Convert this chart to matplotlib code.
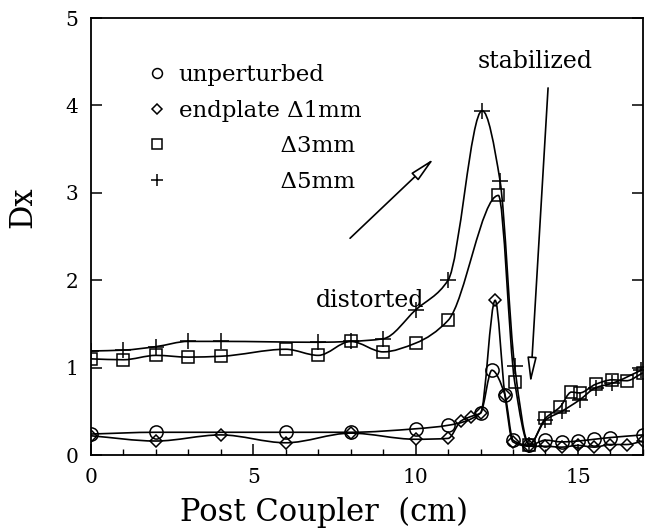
import matplotlib
matplotlib.use("Agg")
import matplotlib.pyplot as plt
import numpy as np
from matplotlib.path import Path
from matplotlib.patches import PathPatch
from matplotlib.lines import Line2D

plt.rcParams['font.family'] = ['DejaVu Serif']

# --- data (Post coupler position in cm vs Dx) ---
unpert_x = [0, 2, 6, 8, 10, 11, 12.0, 12.35, 12.75, 13.0, 13.5, 14.0, 14.5, 15.0, 15.5, 16.0, 17.0]
unpert_y = [0.24, 0.26, 0.26, 0.26, 0.30, 0.34, 0.48, 0.97, 0.69, 0.17, 0.11, 0.17, 0.15, 0.16, 0.18, 0.20, 0.23]

d1_x = [0, 2, 4, 6, 8, 10, 11, 11.4, 11.7, 12.0, 12.45, 12.75, 13.0, 13.5, 14.0, 14.5, 15.0, 15.5, 16.0, 16.5, 17.0]
d1_y = [0.22, 0.16, 0.23, 0.14, 0.25, 0.18, 0.19, 0.39, 0.44, 0.48, 1.77, 0.69, 0.15, 0.10, 0.10, 0.09, 0.11, 0.09, 0.12, 0.12, 0.16]

d3_x = [0, 1, 2, 3, 4, 6, 7, 8, 9, 10, 11, 12.55, 13.05, 13.5, 14.0, 14.45, 14.8, 15.05, 15.55, 16.05, 16.5, 17.0]
d3_y = [1.10, 1.09, 1.14, 1.12, 1.13, 1.21, 1.14, 1.30, 1.18, 1.28, 1.54, 2.97, 0.84, 0.12, 0.42, 0.55, 0.72, 0.71, 0.81, 0.86, 0.85, 0.94]

d5_x = [0, 1, 2, 3, 4, 7, 8, 9, 10, 11, 12.05, 12.6, 13.05, 13.5, 14.0, 14.5, 15.05, 15.55, 16.05, 16.95]
d5_y = [1.19, 1.20, 1.24, 1.30, 1.30, 1.29, 1.30, 1.33, 1.66, 2.00, 3.94, 3.14, 1.02, 0.12, 0.40, 0.50, 0.63, 0.77, 0.82, 0.97]

labels = ['unperturbed', 'endplate \u03941mm', '              \u03943mm', '              \u03945mm']


def smooth_path(xs, ys):
    # bezier segments through the points, monotone (Fritsch-Carlson) tangents
    xs = np.asarray(xs, float)
    ys = np.asarray(ys, float)
    h = np.diff(xs)
    d = np.diff(ys) / h
    n = len(xs)
    m = np.zeros(n)
    m[0], m[-1] = d[0], d[-1]
    for k in range(1, n - 1):
        if d[k - 1] * d[k] > 0:
            w1 = 2 * h[k] + h[k - 1]
            w2 = h[k] + 2 * h[k - 1]
            m[k] = (w1 + w2) / (w1 / d[k - 1] + w2 / d[k])
    verts = [(xs[0], ys[0])]
    codes = [Path.MOVETO]
    for i in range(n - 1):
        verts += [(xs[i] + h[i] / 3, ys[i] + m[i] * h[i] / 3),
                  (xs[i + 1] - h[i] / 3, ys[i + 1] - m[i + 1] * h[i] / 3),
                  (xs[i + 1], ys[i + 1])]
        codes += [Path.CURVE4] * 3
    return Path(verts, codes)


fig = plt.figure(figsize=(6.5, 5.3), dpi=100)
ax = fig.add_axes([0.14, 0.1415, 0.849, 0.8245])

series = [
    (unpert_x, unpert_y, 'o', 9.5),
    (d1_x, d1_y, 'D', 6.5),
    (d3_x, d3_y, 's', 9.0),
    (d5_x, d5_y, '+', 11.0),
]

handles = []
for xs, ys, mk, ms in series:
    ax.add_patch(PathPatch(smooth_path(xs, ys), fill=False, lw=1.2, ec='black'))
    ax.plot(xs, ys, linestyle='none', marker=mk, ms=ms, mfc='none', mec='black', mew=1.1)
    handles.append(Line2D([], [], linestyle='none', marker=mk, ms=ms * 0.75,
                          mfc='none', mec='black', mew=1.1))

ax.legend(handles, labels, loc='upper left', bbox_to_anchor=(0.098, 0.895),
          frameon=False, fontsize=16.5, handlelength=1.0, handletextpad=0.47,
          labelspacing=0.6, borderpad=0, borderaxespad=0)

# arrows and notes
ax.annotate('', xy=(10.56, 3.39), xytext=(7.98, 2.48),
            arrowprops=dict(arrowstyle='-|>,head_length=1.1,head_width=0.22',
                            mutation_scale=14, fc='white', ec='black', lw=1.2,
                            shrinkA=0, shrinkB=0))
ax.annotate('', xy=(13.54, 0.82), xytext=(14.08, 4.2),
            arrowprops=dict(arrowstyle='-|>,head_length=1.1,head_width=0.2',
                            mutation_scale=14, fc='white', ec='black', lw=1.2,
                            shrinkA=0, shrinkB=0))
ax.text(13.67, 4.5, 'stabilized', fontsize=17, ha='center', va='center')
ax.text(8.6, 1.77, 'distorted', fontsize=17, ha='center', va='center')

ax.set_xlim(0, 17)
ax.set_ylim(0, 5)
ax.set_xticks([0, 5, 10, 15])
ax.set_xticks(np.arange(0, 18, 1), minor=True)
ax.set_yticks([0, 1, 2, 3, 4, 5])
ax.tick_params(axis='both', which='major', direction='in', length=8, width=1.1,
               labelsize=14.5, pad=9)
ax.tick_params(axis='x', which='minor', direction='in', length=4, width=1.0)
ax.tick_params(axis='y', which='both', right=True)
for sp in ax.spines.values():
    sp.set_linewidth(1.3)

ax.set_xlabel('Post Coupler  (cm)', fontsize=22)
ax.xaxis.set_label_coords(0.422, -0.095)
ax.set_ylabel('Dx', fontsize=22)
ax.yaxis.set_label_coords(-0.096, 0.567)

fig.savefig('out.png', dpi=100)
